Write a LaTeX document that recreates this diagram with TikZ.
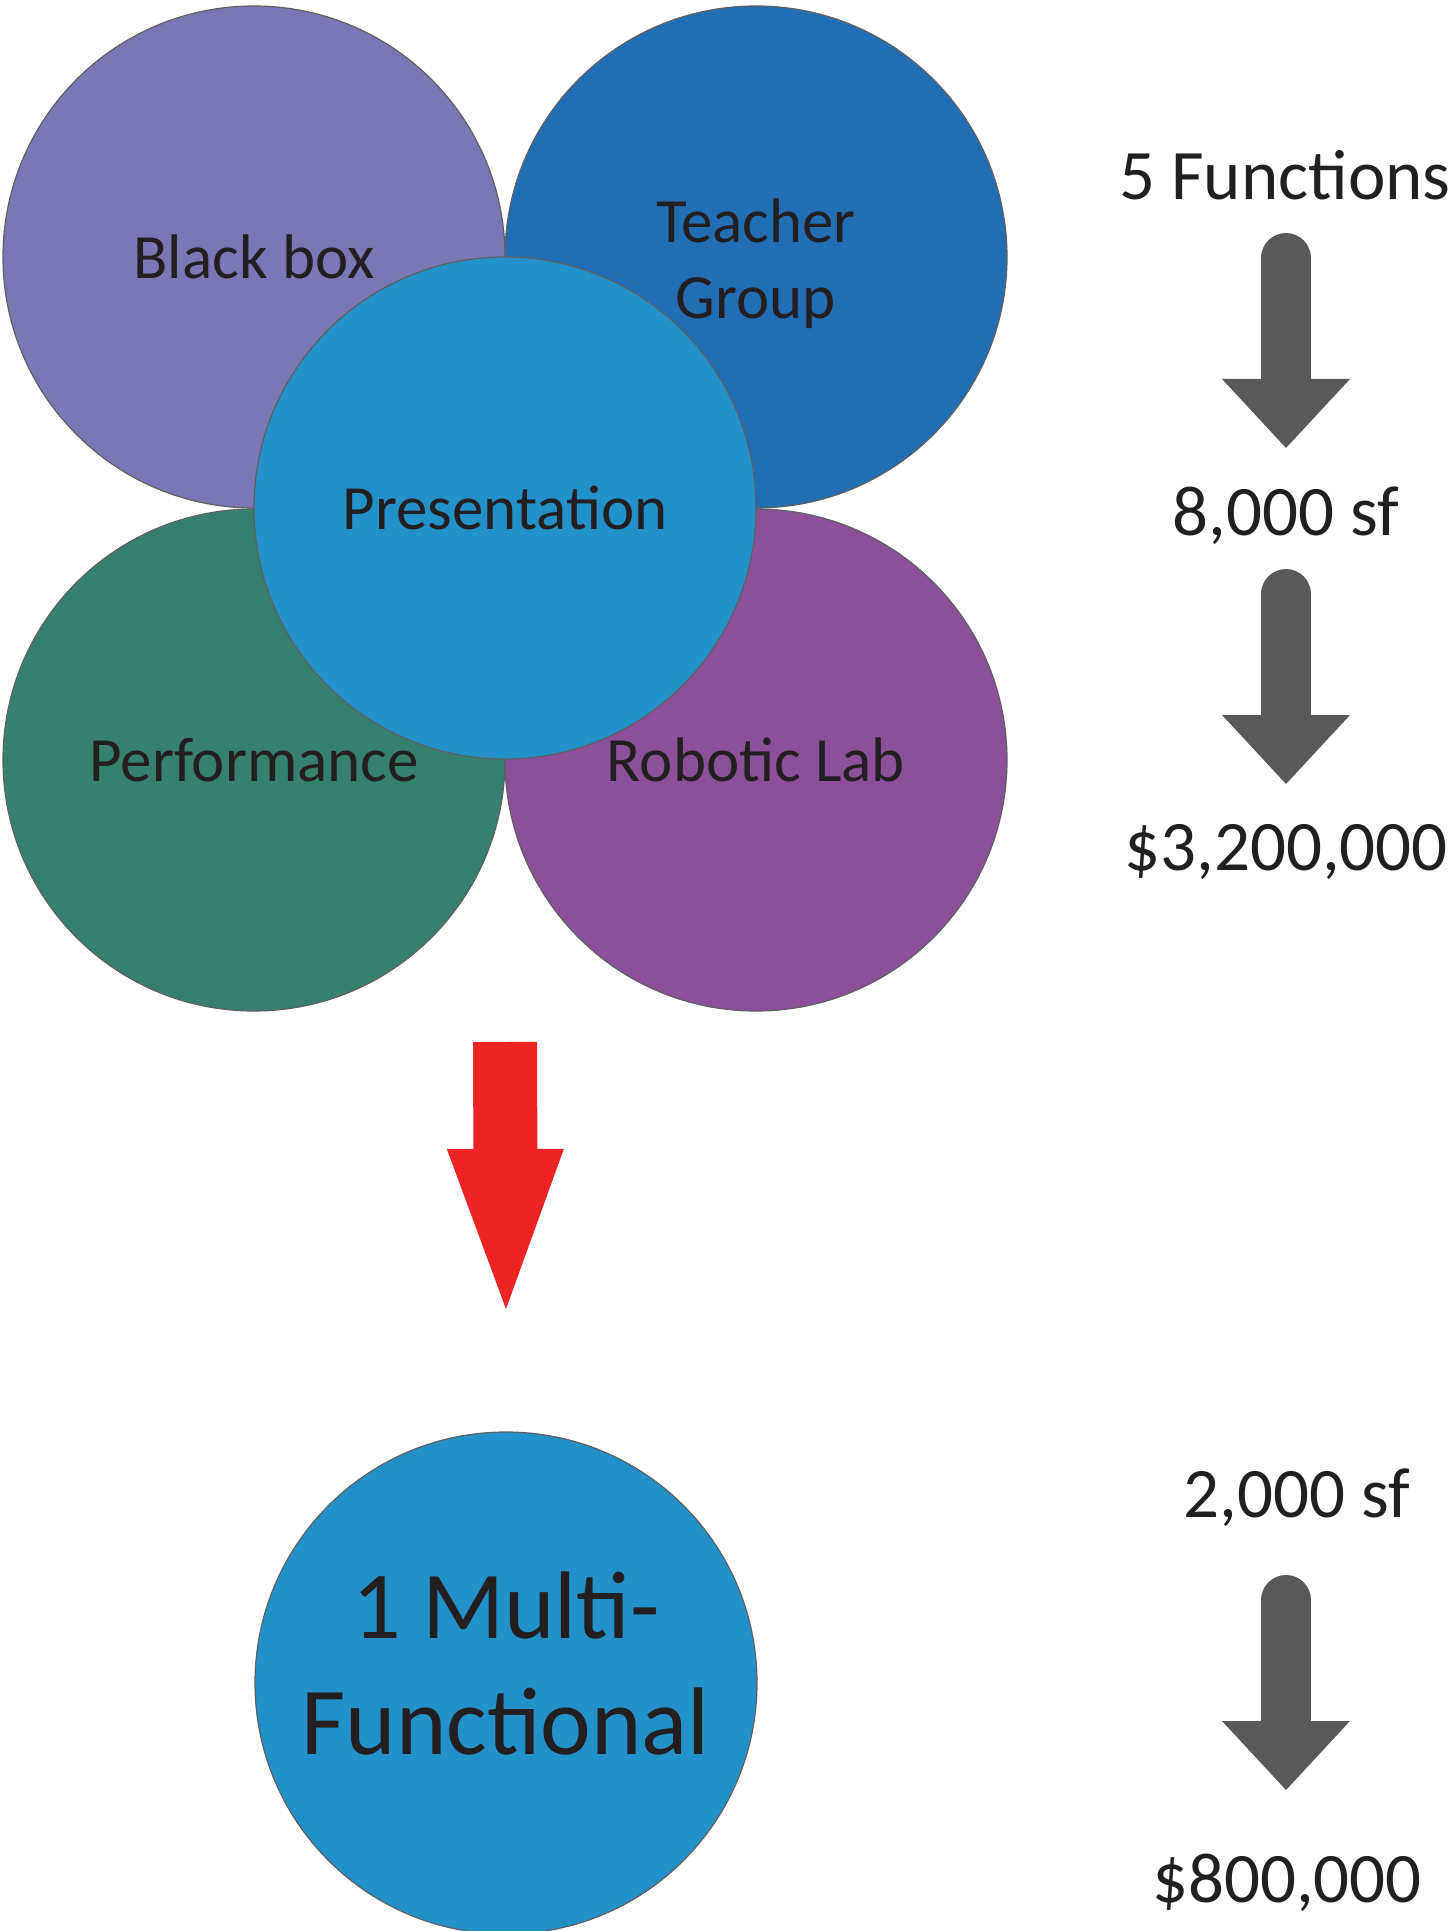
\documentclass[tikz,border=0pt]{standalone}
\usepackage{fontspec}
\setmainfont{Carlito}
\usetikzlibrary{arrows.meta}
\usepackage{xcolor}
\definecolor{boxpurple}{HTML}{7977B5}
\definecolor{teachblue}{HTML}{216EB5}
\definecolor{presblue}{HTML}{2391C9}
\definecolor{perfgreen}{HTML}{35806E}
\definecolor{labpurple}{HTML}{8C4F9A}
\definecolor{rimgrey}{HTML}{5F5F62}
\definecolor{inkgrey}{HTML}{231F20}
\definecolor{arrowgrey}{HTML}{58595B}
\definecolor{arrowred}{HTML}{EE2324}

\begin{document}
\begin{tikzpicture}[x=.5pt,y=-.5pt,
  bubble/.style={circle, draw=rimgrey, line width=.6pt, minimum size=251pt, inner sep=0pt,
    text=inkgrey, align=center, font=\fontsize{31.5}{38}\selectfont},
  side/.style={text=inkgrey, font=\fontsize{35.5}{42}\selectfont, inner sep=0pt, anchor=base},
  greyarrow/.style={draw=arrowgrey, line width=25pt, line cap=round,
    -{Triangle[width=64pt,length=34.5pt,line width=0pt]}},
  redarrow/.style={draw=arrowred, line width=32pt,
    -{Triangle[width=58.5pt,length=80pt,line width=0pt]}}]
\useasboundingbox (0,0) rectangle (1455,1931);

% the five functions
\node[bubble, fill=boxpurple] (blackbox) at (254,257) {Black box};
\node[bubble, fill=teachblue] (teacher) at (756,257) {};
\node[text=inkgrey, align=center, inner sep=0pt, font=\fontsize{31.5}{38}\selectfont]
  (teachertxt) at ([yshift=-3.5pt]teacher.center) {Teacher\\Group};
\node[bubble, fill=perfgreen] (perform) at (254,760) {Performance};
\node[bubble, fill=labpurple] (robolab) at (756,760) {Robotic Lab};
\node[bubble, fill=presblue] (present) at (505,508) {Presentation};

% merged into one
\draw[redarrow] (505,1042) coordinate (redtop) -- (506,1309) coordinate (redtip);
\node[bubble, fill=presblue] (multi) at (506,1683) {};
\node[text=inkgrey, align=center, inner sep=0pt, font=\fontsize{48}{58}\selectfont]
  (multitxt) at ([yshift=9.5pt]multi.center) {1 Multi-\\Functional};

% figures on the right
\node[side] (funcs) at (1285,200) {5 Functions};
\node[side] (area) at (1286,535) {8,000 sf};
\node[side] (cost) at (1286,870) {\$3,200,000};
\node[side] (newarea) at (1297,1517) {2,000 sf};
\node[side] (newcost) at (1287,1902) {\$800,000};

\coordinate (a1) at (1286,258); \coordinate (b1) at (1286,448);
\coordinate (a2) at (1286,594); \coordinate (b2) at (1286,784);
\coordinate (a3) at (1286,1600); \coordinate (b3) at (1286,1790);
\foreach \i in {1,2,3}
  \draw[greyarrow] (a\i) -- (b\i);
\end{tikzpicture}
\end{document}
